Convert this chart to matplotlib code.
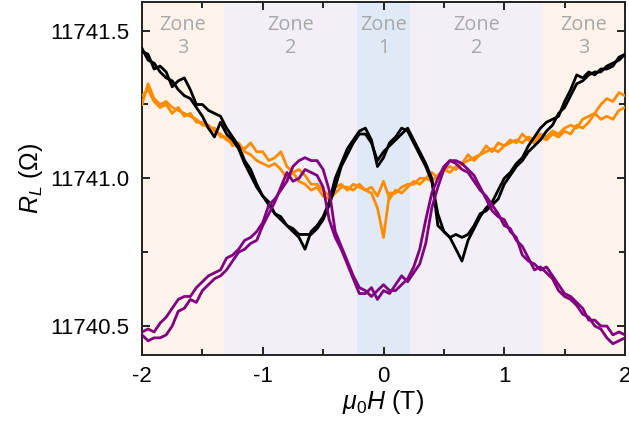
import matplotlib
matplotlib.use("Agg")
import matplotlib.pyplot as plt
import numpy as np
from matplotlib.ticker import MultipleLocator, FormatStrFormatter

# field sweep grid (T)
field = np.round(np.arange(-2.0, 2.0001, 0.05), 2)

# R_L (Ohm) - two sweeps per colour
black_a = [11741.43, 11741.42, 11741.37, 11741.38, 11741.36, 11741.31, 11741.33, 11741.34, 11741.30, 11741.25,
           11741.25, 11741.23, 11741.22, 11741.21, 11741.17, 11741.14, 11741.11, 11741.06, 11741.03, 11740.98,
           11740.94, 11740.91, 11740.88, 11740.86, 11740.84, 11740.82, 11740.80, 11740.76, 11740.82, 11740.84,
           11740.87, 11740.92, 11741.00, 11741.05, 11741.10, 11741.13, 11741.16, 11741.17, 11741.13, 11741.04,
           11741.07, 11741.12, 11741.14, 11741.17, 11741.16, 11741.12, 11741.08, 11741.04, 11740.99, 11740.88,
           11740.82, 11740.80, 11740.76, 11740.72, 11740.79, 11740.83, 11740.87, 11740.90, 11740.92, 11740.96,
           11741.00, 11741.02, 11741.05, 11741.07, 11741.11, 11741.14, 11741.17, 11741.19, 11741.20, 11741.21,
           11741.26, 11741.30, 11741.35, 11741.34, 11741.36, 11741.35, 11741.37, 11741.37, 11741.38, 11741.41,
           11741.42]
black_b = [11741.44, 11741.40, 11741.39, 11741.36, 11741.34, 11741.33, 11741.30, 11741.28, 11741.27, 11741.24,
           11741.21, 11741.17, 11741.14, 11741.19, 11741.15, 11741.13, 11741.10, 11741.05, 11741.01, 11740.97,
           11740.94, 11740.92, 11740.88, 11740.87, 11740.84, 11740.83, 11740.81, 11740.81, 11740.81, 11740.83,
           11740.86, 11740.91, 11740.97, 11741.04, 11741.08, 11741.12, 11741.15, 11741.15, 11741.12, 11741.06,
           11741.09, 11741.11, 11741.13, 11741.15, 11741.17, 11741.13, 11741.09, 11741.05, 11741.00, 11740.84,
           11740.82, 11740.80, 11740.81, 11740.80, 11740.81, 11740.84, 11740.88, 11740.89, 11740.91, 11740.93,
           11740.98, 11741.01, 11741.04, 11741.06, 11741.09, 11741.11, 11741.13, 11741.16, 11741.18, 11741.22,
           11741.24, 11741.28, 11741.32, 11741.33, 11741.35, 11741.36, 11741.36, 11741.38, 11741.39, 11741.40,
           11741.42]
orange_a = [11741.25, 11741.32, 11741.27, 11741.25, 11741.26, 11741.24, 11741.23, 11741.22, 11741.21, 11741.20,
            11741.18, 11741.18, 11741.16, 11741.15, 11741.13, 11741.12, 11741.11, 11741.10, 11741.12, 11741.09,
            11741.09, 11741.06, 11741.07, 11741.09, 11741.04, 11741.02, 11741.03, 11741.01, 11740.98, 11740.98,
            11740.96, 11740.94, 11740.97, 11740.98, 11740.96, 11740.98, 11740.97, 11740.96, 11740.95, 11740.90,
            11740.80, 11740.95, 11740.95, 11740.97, 11740.98, 11740.98, 11741.00, 11741.00, 11740.99, 11741.01,
            11741.03, 11741.02, 11741.04, 11741.05, 11741.06, 11741.07, 11741.08, 11741.09, 11741.10, 11741.09,
            11741.11, 11741.12, 11741.13, 11741.12, 11741.14, 11741.13, 11741.15, 11741.14, 11741.16, 11741.15,
            11741.17, 11741.18, 11741.17, 11741.20, 11741.21, 11741.22, 11741.25, 11741.27, 11741.26, 11741.29,
            11741.28]
orange_b = [11741.28, 11741.30, 11741.26, 11741.24, 11741.25, 11741.22, 11741.24, 11741.21, 11741.22, 11741.19,
            11741.19, 11741.17, 11741.17, 11741.14, 11741.14, 11741.11, 11741.12, 11741.09, 11741.08, 11741.06,
            11741.05, 11741.04, 11741.05, 11741.03, 11741.00, 11741.02, 11740.99, 11740.98, 11740.96, 11740.97,
            11740.94, 11740.93, 11740.95, 11740.97, 11740.97, 11740.96, 11740.98, 11740.96, 11740.97, 11740.94,
            11740.99, 11740.93, 11740.96, 11740.95, 11740.97, 11740.99, 11740.98, 11741.00, 11741.02, 11741.00,
            11741.03, 11741.04, 11741.03, 11741.05, 11741.08, 11741.06, 11741.08, 11741.11, 11741.09, 11741.12,
            11741.11, 11741.13, 11741.12, 11741.15, 11741.13, 11741.12, 11741.14, 11741.13, 11741.15, 11741.14,
            11741.16, 11741.15, 11741.18, 11741.17, 11741.19, 11741.22, 11741.20, 11741.21, 11741.20, 11741.23,
            11741.24]
purple_a = [11740.48, 11740.49, 11740.48, 11740.51, 11740.53, 11740.56, 11740.59, 11740.60, 11740.60, 11740.63,
            11740.65, 11740.67, 11740.68, 11740.69, 11740.73, 11740.74, 11740.76, 11740.79, 11740.80, 11740.82,
            11740.85, 11740.91, 11740.93, 11740.96, 11740.99, 11741.04, 11741.06, 11741.07, 11741.06, 11741.06,
            11741.03, 11740.96, 11740.82, 11740.77, 11740.72, 11740.67, 11740.63, 11740.62, 11740.60, 11740.62,
            11740.64, 11740.62, 11740.62, 11740.64, 11740.66, 11740.70, 11740.76, 11740.86, 11740.95, 11741.00,
            11741.04, 11741.06, 11741.06, 11741.05, 11741.03, 11741.01, 11740.97, 11740.93, 11740.89, 11740.87,
            11740.86, 11740.82, 11740.80, 11740.74, 11740.72, 11740.71, 11740.69, 11740.70, 11740.67, 11740.64,
            11740.61, 11740.60, 11740.58, 11740.56, 11740.52, 11740.52, 11740.50, 11740.50, 11740.47, 11740.48,
            11740.47]
purple_b = [11740.47, 11740.45, 11740.46, 11740.46, 11740.47, 11740.50, 11740.55, 11740.56, 11740.59, 11740.58,
            11740.62, 11740.64, 11740.66, 11740.67, 11740.69, 11740.72, 11740.75, 11740.76, 11740.78, 11740.79,
            11740.84, 11740.88, 11740.92, 11740.97, 11741.02, 11740.99, 11741.00, 11741.03, 11741.02, 11741.01,
            11740.97, 11740.86, 11740.80, 11740.76, 11740.71, 11740.66, 11740.61, 11740.61, 11740.63, 11740.59,
            11740.62, 11740.61, 11740.64, 11740.67, 11740.65, 11740.68, 11740.71, 11740.78, 11740.90, 11740.97,
            11741.03, 11741.06, 11741.05, 11741.03, 11741.02, 11740.99, 11740.96, 11740.94, 11740.91, 11740.88,
            11740.84, 11740.83, 11740.79, 11740.77, 11740.73, 11740.69, 11740.70, 11740.68, 11740.66, 11740.62,
            11740.60, 11740.59, 11740.57, 11740.54, 11740.53, 11740.50, 11740.49, 11740.46, 11740.44, 11740.45,
            11740.46]

# zone boundaries (T), colours and labels
zone_edges = [-2.0, -1.32, -0.22, 0.22, 1.32, 2.0]
zone_colors = ['#FEF3EA', '#F2F0F6', '#DFEAF6', '#F2F0F6', '#FEF3EA']
zone_labels = ['Zone\n3', 'Zone\n2', 'Zone\n1', 'Zone\n2', 'Zone\n3']

plt.rcParams['font.family'] = ['Liberation Sans', 'DejaVu Sans']
plt.rcParams['mathtext.fontset'] = 'custom'
plt.rcParams['mathtext.it'] = 'Liberation Sans:italic'
plt.rcParams['mathtext.rm'] = 'Liberation Sans'

fig = plt.figure(figsize=(6.29, 4.23), dpi=100)
ax = fig.add_axes([0.2258, 0.1608, 0.7678, 0.8345])

for i in range(len(zone_colors)):
    lo, hi = zone_edges[i], zone_edges[i + 1]
    ax.axvspan(lo, hi, color=zone_colors[i], lw=0, zorder=0)
    ax.text((lo + hi) / 2, 11741.553, zone_labels[i], ha='center', va='top',
            fontsize=14.3, color='#A8A8A8', linespacing=1.2,
            family=['Open Sans', 'DejaVu Sans'], zorder=1)

lw = 2.0
ax.plot(field, orange_a, color='#FF8C00', lw=lw, zorder=3)
ax.plot(field, orange_b, color='#FF8C00', lw=lw, zorder=3)
ax.plot(field, black_a, color='black', lw=lw, zorder=4)
ax.plot(field, black_b, color='black', lw=lw, zorder=4)
ax.plot(field, purple_a, color='#800080', lw=lw, zorder=5)
ax.plot(field, purple_b, color='#800080', lw=lw, zorder=5)

ax.set_xlim(-2, 2)
ax.set_ylim(11740.402, 11741.597)
ax.xaxis.set_major_locator(MultipleLocator(1))
ax.xaxis.set_minor_locator(MultipleLocator(0.5))
ax.yaxis.set_major_locator(MultipleLocator(0.5))
ax.yaxis.set_minor_locator(MultipleLocator(0.25))
ax.yaxis.set_major_formatter(FormatStrFormatter('%.1f'))
ax.xaxis.set_major_formatter(FormatStrFormatter('%d'))
ax.tick_params(which='both', direction='in', top=True, right=True, labelsize=16, width=1.2)
ax.tick_params(which='major', length=6)
ax.tick_params(which='minor', length=4)
ax.tick_params(axis='x', pad=8)
ax.tick_params(axis='y', pad=9)
for s in ax.spines.values():
    s.set_linewidth(1.4)
    s.set_color('#222222')

ax.set_xlabel(r'$\mu_0H$ (T)', fontsize=18, labelpad=1)
ax.set_ylabel(r'$R_L$ ($\Omega$)', fontsize=18, labelpad=4)

fig.savefig('out.png', dpi=100)
